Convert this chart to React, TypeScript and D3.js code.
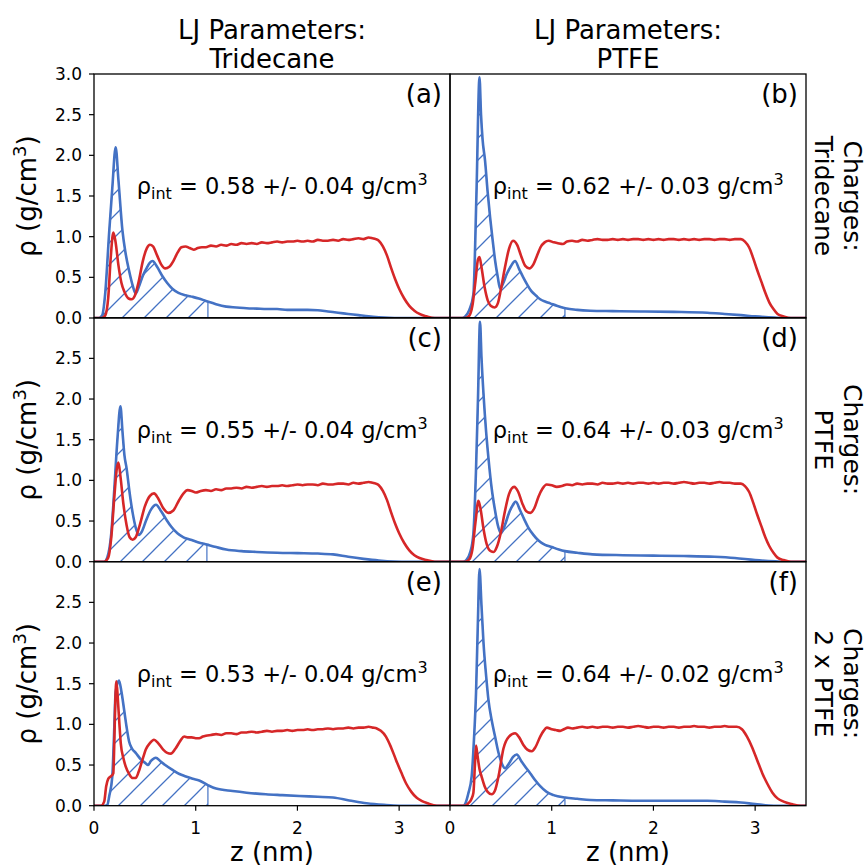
import React from "react";
import * as d3 from "d3";

type P = [number, number];

const colTitles = [
  ["LJ Parameters:", "Tridecane"],
  ["LJ Parameters:", "PTFE"],
];
const rowTitles = [
  ["Charges:", "Tridecane"],
  ["Charges:", "PTFE"],
  ["Charges:", "2 x PTFE"],
];
const panelLetters = ["(a)", "(b)", "(c)", "(d)", "(e)", "(f)"];
const rhoIntValues = ["0.58 +/- 0.04", "0.62 +/- 0.03", "0.55 +/- 0.04", "0.64 +/- 0.03", "0.53 +/- 0.04", "0.64 +/- 0.02"];
const hatchEnd = [1.12, 1.13, 1.11, 1.13, 1.12, 1.13];
const xTicks = [0, 1, 2, 3];
const yTicksTop = [0, 0.5, 1, 1.5, 2, 2.5, 3];
const yTicksLower = [0, 0.5, 1, 1.5, 2, 2.5];

const blueA: P[] = [[0,0],[0.05,0],[0.08,0.03],[0.11,0.3],[0.15,1.07],[0.18,1.6],[0.213,2.1],[0.24,1.7],[0.28,1.07],[0.31,0.8],[0.345,0.58],[0.38,0.4],[0.41,0.3],[0.44,0.38],[0.48,0.52],[0.52,0.62],[0.55,0.68],[0.575,0.7],[0.62,0.63],[0.67,0.52],[0.72,0.43],[0.77,0.36],[0.83,0.31],[0.9,0.28],[0.97,0.26],[1.03,0.24],[1.1,0.21],[1.15,0.19],[1.2,0.17],[1.3,0.14],[1.4,0.13],[1.5,0.12],[1.6,0.115],[1.7,0.11],[1.8,0.11],[1.9,0.1],[2.0,0.1],[2.1,0.1],[2.2,0.095],[2.3,0.08],[2.4,0.065],[2.5,0.05],[2.6,0.035],[2.7,0.02],[2.8,0.01],[2.9,0.003],[3.0,0],[3.5,0]];
const redA: P[] = [[0,0],[0.08,0],[0.11,0.03],[0.14,0.25],[0.165,0.75],[0.19,1.05],[0.21,0.95],[0.24,0.65],[0.27,0.43],[0.3,0.32],[0.34,0.24],[0.37,0.23],[0.4,0.27],[0.44,0.45],[0.48,0.7],[0.52,0.86],[0.55,0.9],[0.58,0.88],[0.62,0.77],[0.66,0.66],[0.7,0.61],[0.74,0.63],[0.78,0.7],[0.82,0.8],[0.86,0.87],[0.9,0.88],[0.94,0.86],[0.98,0.84],[1.02,0.86],[1.06,0.87],[1.1,0.87],[1.15,0.89],[1.2,0.88],[1.25,0.9],[1.3,0.89],[1.35,0.91],[1.4,0.9],[1.45,0.92],[1.5,0.91],[1.55,0.92],[1.6,0.91],[1.65,0.93],[1.7,0.92],[1.75,0.93],[1.8,0.94],[1.85,0.93],[1.9,0.94],[1.95,0.94],[2.0,0.95],[2.05,0.94],[2.1,0.95],[2.15,0.94],[2.2,0.96],[2.25,0.95],[2.3,0.95],[2.35,0.96],[2.4,0.95],[2.45,0.97],[2.5,0.96],[2.55,0.97],[2.6,0.98],[2.65,0.97],[2.7,0.99],[2.74,0.98],[2.77,0.97],[2.8,0.95],[2.84,0.88],[2.88,0.77],[2.92,0.62],[2.96,0.48],[3.0,0.36],[3.05,0.24],[3.1,0.15],[3.15,0.09],[3.2,0.05],[3.27,0.02],[3.35,0],[3.5,0]];

const blueB: P[] = [[0,0],[0.12,0],[0.15,0.02],[0.19,0.1],[0.23,0.29],[0.26,1.52],[0.29,2.96],[0.305,2.5],[0.32,2.2],[0.345,1.93],[0.37,1.55],[0.394,1.24],[0.42,0.95],[0.443,0.71],[0.47,0.5],[0.493,0.36],[0.52,0.42],[0.558,0.54],[0.6,0.64],[0.64,0.7],[0.68,0.6],[0.72,0.5],[0.755,0.42],[0.8,0.33],[0.85,0.27],[0.887,0.23],[0.94,0.2],[0.985,0.18],[1.05,0.15],[1.133,0.12],[1.25,0.1],[1.38,0.09],[1.6,0.085],[1.87,0.08],[2.2,0.075],[2.53,0.065],[2.7,0.05],[2.86,0.035],[3.0,0.02],[3.19,0.005],[3.3,0],[3.5,0]];
const redB: P[] = [[0,0],[0.15,0],[0.19,0.03],[0.22,0.15],[0.25,0.45],[0.275,0.72],[0.29,0.75],[0.31,0.62],[0.34,0.38],[0.37,0.22],[0.4,0.15],[0.44,0.13],[0.47,0.18],[0.5,0.35],[0.54,0.62],[0.58,0.85],[0.62,0.95],[0.66,0.9],[0.7,0.76],[0.74,0.64],[0.78,0.61],[0.82,0.66],[0.86,0.78],[0.89,0.87],[0.93,0.93],[0.97,0.95],[1.02,0.93],[1.06,0.92],[1.11,0.91],[1.15,0.94],[1.2,0.95],[1.25,0.94],[1.3,0.96],[1.35,0.95],[1.4,0.96],[1.45,0.97],[1.5,0.96],[1.55,0.96],[1.6,0.97],[1.65,0.96],[1.7,0.97],[1.75,0.96],[1.8,0.97],[1.85,0.97],[1.9,0.96],[1.95,0.97],[2.0,0.96],[2.05,0.97],[2.1,0.96],[2.15,0.97],[2.2,0.97],[2.25,0.96],[2.3,0.97],[2.35,0.96],[2.4,0.97],[2.45,0.96],[2.5,0.97],[2.55,0.97],[2.6,0.96],[2.65,0.97],[2.7,0.97],[2.75,0.96],[2.8,0.97],[2.86,0.97],[2.9,0.94],[2.94,0.87],[2.98,0.74],[3.02,0.59],[3.06,0.45],[3.1,0.31],[3.14,0.19],[3.18,0.11],[3.22,0.05],[3.28,0.02],[3.35,0],[3.5,0]];

const blueC: P[] = [[0,0],[0.1,0],[0.13,0.05],[0.17,0.35],[0.2,0.9],[0.23,1.5],[0.26,1.91],[0.28,1.6],[0.3,1.3],[0.32,1.15],[0.35,0.85],[0.38,0.6],[0.41,0.42],[0.44,0.33],[0.47,0.37],[0.51,0.5],[0.56,0.64],[0.61,0.7],[0.66,0.62],[0.71,0.52],[0.76,0.43],[0.82,0.35],[0.88,0.3],[0.95,0.27],[1.02,0.24],[1.11,0.21],[1.2,0.18],[1.3,0.15],[1.45,0.13],[1.6,0.12],[1.8,0.11],[2.0,0.105],[2.2,0.1],[2.35,0.09],[2.5,0.06],[2.65,0.035],[2.8,0.015],[2.95,0.003],[3.1,0],[3.5,0]];
const redC: P[] = [[0,0],[0.1,0],[0.14,0.05],[0.17,0.3],[0.2,0.8],[0.225,1.15],[0.24,1.22],[0.26,1.05],[0.29,0.7],[0.32,0.45],[0.35,0.3],[0.38,0.27],[0.41,0.3],[0.45,0.45],[0.5,0.68],[0.55,0.81],[0.59,0.84],[0.63,0.78],[0.68,0.66],[0.73,0.6],[0.78,0.63],[0.83,0.74],[0.88,0.84],[0.92,0.88],[0.96,0.87],[1.0,0.85],[1.05,0.87],[1.1,0.88],[1.15,0.87],[1.2,0.89],[1.25,0.88],[1.3,0.9],[1.35,0.9],[1.4,0.91],[1.45,0.9],[1.5,0.92],[1.55,0.91],[1.6,0.92],[1.65,0.93],[1.7,0.92],[1.75,0.93],[1.8,0.93],[1.85,0.94],[1.9,0.93],[1.95,0.94],[2.0,0.95],[2.05,0.94],[2.1,0.95],[2.15,0.95],[2.2,0.94],[2.25,0.96],[2.3,0.95],[2.35,0.95],[2.4,0.96],[2.45,0.96],[2.5,0.95],[2.55,0.97],[2.6,0.96],[2.65,0.97],[2.7,0.98],[2.74,0.97],[2.77,0.96],[2.8,0.94],[2.84,0.87],[2.88,0.76],[2.92,0.61],[2.96,0.47],[3.0,0.35],[3.05,0.23],[3.1,0.14],[3.15,0.08],[3.2,0.045],[3.27,0.02],[3.35,0],[3.5,0]];

const blueD: P[] = [[0,0],[0.13,0],[0.16,0.02],[0.2,0.12],[0.23,0.35],[0.255,1.1],[0.275,2.0],[0.295,2.95],[0.31,2.5],[0.33,2.05],[0.355,1.6],[0.38,1.25],[0.41,0.9],[0.44,0.65],[0.47,0.45],[0.5,0.35],[0.54,0.45],[0.58,0.6],[0.62,0.7],[0.645,0.74],[0.69,0.63],[0.73,0.52],[0.77,0.42],[0.82,0.33],[0.87,0.26],[0.93,0.21],[1.0,0.18],[1.07,0.15],[1.13,0.13],[1.25,0.11],[1.4,0.09],[1.7,0.08],[2.0,0.075],[2.3,0.07],[2.6,0.06],[2.8,0.045],[3.0,0.02],[3.2,0.005],[3.3,0],[3.5,0]];
const redD: P[] = [[0,0],[0.15,0],[0.19,0.03],[0.22,0.15],[0.25,0.48],[0.28,0.75],[0.3,0.65],[0.33,0.4],[0.36,0.22],[0.4,0.13],[0.43,0.12],[0.46,0.18],[0.5,0.36],[0.54,0.62],[0.58,0.83],[0.63,0.92],[0.67,0.86],[0.71,0.72],[0.75,0.62],[0.79,0.6],[0.83,0.66],[0.87,0.8],[0.91,0.9],[0.95,0.95],[1.0,0.94],[1.05,0.92],[1.1,0.93],[1.15,0.95],[1.2,0.94],[1.25,0.96],[1.3,0.95],[1.35,0.96],[1.4,0.96],[1.45,0.95],[1.5,0.97],[1.55,0.96],[1.6,0.96],[1.65,0.97],[1.7,0.96],[1.75,0.97],[1.8,0.96],[1.85,0.97],[1.9,0.97],[1.95,0.96],[2.0,0.97],[2.05,0.96],[2.1,0.97],[2.15,0.97],[2.2,0.96],[2.25,0.97],[2.3,0.98],[2.35,0.97],[2.4,0.96],[2.45,0.97],[2.5,0.97],[2.55,0.96],[2.6,0.97],[2.65,0.98],[2.7,0.97],[2.75,0.97],[2.8,0.96],[2.86,0.96],[2.9,0.93],[2.94,0.86],[2.98,0.73],[3.02,0.58],[3.06,0.44],[3.1,0.3],[3.14,0.19],[3.18,0.11],[3.22,0.05],[3.28,0.02],[3.35,0],[3.5,0]];

const blueE: P[] = [[0,0],[0.11,0],[0.131,0.01],[0.15,0.12],[0.18,0.36],[0.195,0.8],[0.213,1.4],[0.246,1.54],[0.27,1.4],[0.296,1.18],[0.32,0.97],[0.345,0.79],[0.375,0.7],[0.41,0.65],[0.46,0.57],[0.51,0.52],[0.53,0.5],[0.56,0.55],[0.608,0.59],[0.65,0.55],[0.7,0.5],[0.772,0.44],[0.84,0.39],[0.903,0.36],[0.97,0.33],[1.034,0.31],[1.123,0.25],[1.2,0.21],[1.363,0.18],[1.5,0.16],[1.69,0.14],[1.85,0.13],[2.02,0.12],[2.2,0.11],[2.35,0.1],[2.51,0.065],[2.68,0.03],[2.85,0.01],[3.0,0],[3.5,0]];
const redE: P[] = [[0,0],[0.07,0],[0.1,0.05],[0.12,0.24],[0.14,0.33],[0.165,0.36],[0.19,0.4],[0.2,0.8],[0.21,1.3],[0.22,1.53],[0.235,1.3],[0.25,1.0],[0.263,0.77],[0.29,0.58],[0.312,0.48],[0.35,0.38],[0.38,0.34],[0.41,0.34],[0.44,0.42],[0.48,0.58],[0.509,0.69],[0.55,0.77],[0.59,0.81],[0.63,0.77],[0.68,0.69],[0.72,0.65],[0.755,0.64],[0.8,0.7],[0.85,0.8],[0.887,0.85],[0.92,0.84],[0.96,0.84],[1.0,0.83],[1.034,0.83],[1.07,0.85],[1.1,0.86],[1.15,0.87],[1.2,0.88],[1.25,0.87],[1.3,0.89],[1.35,0.89],[1.4,0.88],[1.45,0.9],[1.5,0.9],[1.55,0.91],[1.6,0.9],[1.65,0.91],[1.7,0.92],[1.75,0.91],[1.8,0.92],[1.85,0.92],[1.9,0.93],[1.95,0.92],[2.0,0.93],[2.05,0.93],[2.1,0.94],[2.15,0.93],[2.2,0.94],[2.25,0.94],[2.3,0.95],[2.35,0.94],[2.4,0.95],[2.45,0.95],[2.5,0.96],[2.55,0.95],[2.6,0.96],[2.65,0.96],[2.7,0.97],[2.74,0.96],[2.78,0.95],[2.82,0.92],[2.87,0.85],[2.92,0.72],[2.97,0.56],[3.02,0.41],[3.07,0.27],[3.12,0.17],[3.17,0.1],[3.22,0.06],[3.28,0.03],[3.37,0],[3.5,0]];

const blueF: P[] = [[0,0],[0.13,0],[0.148,0.02],[0.18,0.15],[0.213,0.36],[0.235,0.8],[0.256,1.39],[0.275,2.3],[0.29,2.91],[0.31,2.45],[0.33,1.99],[0.355,1.6],[0.378,1.3],[0.41,1.05],[0.443,0.85],[0.475,0.66],[0.509,0.52],[0.542,0.46],[0.58,0.52],[0.62,0.6],[0.657,0.63],[0.7,0.55],[0.745,0.47],[0.788,0.4],[0.84,0.31],[0.887,0.24],[0.95,0.17],[1.018,0.13],[1.133,0.1],[1.25,0.085],[1.38,0.07],[1.6,0.065],[1.87,0.06],[2.2,0.06],[2.53,0.06],[2.7,0.05],[2.86,0.04],[3.0,0.02],[3.185,0],[3.5,0]];
const redF: P[] = [[0,0],[0.15,0],[0.18,0.03],[0.21,0.08],[0.23,0.16],[0.245,0.5],[0.256,0.74],[0.27,0.62],[0.29,0.45],[0.31,0.36],[0.34,0.24],[0.37,0.17],[0.41,0.14],[0.44,0.18],[0.48,0.38],[0.525,0.7],[0.58,0.85],[0.64,0.89],[0.68,0.84],[0.72,0.75],[0.76,0.69],[0.805,0.67],[0.84,0.72],[0.887,0.85],[0.92,0.92],[0.952,0.96],[1.0,0.94],[1.04,0.93],[1.084,0.92],[1.12,0.94],[1.16,0.96],[1.2,0.95],[1.25,0.96],[1.3,0.97],[1.35,0.96],[1.4,0.97],[1.45,0.96],[1.5,0.97],[1.55,0.97],[1.6,0.96],[1.65,0.97],[1.7,0.97],[1.75,0.96],[1.8,0.97],[1.85,0.98],[1.9,0.97],[1.95,0.96],[2.0,0.97],[2.05,0.97],[2.1,0.96],[2.15,0.97],[2.2,0.97],[2.25,0.96],[2.3,0.97],[2.35,0.97],[2.4,0.98],[2.45,0.97],[2.5,0.97],[2.55,0.96],[2.6,0.97],[2.65,0.97],[2.7,0.98],[2.75,0.97],[2.82,0.97],[2.87,0.94],[2.92,0.85],[2.97,0.72],[3.02,0.56],[3.07,0.4],[3.12,0.27],[3.17,0.16],[3.22,0.09],[3.28,0.05],[3.36,0.02],[3.45,0],[3.5,0]];

const blueSeries = [blueA, blueB, blueC, blueD, blueE, blueF];
const redSeries = [redA, redB, redC, redD, redE, redF];

const BLUE = "#4472c4";
const RED = "#d62728";
const FONT = "DejaVu Sans, sans-serif";
const BIG = 26;

const colX = [94, 450];
const rowY = [74, 317.7, 561.7];
const PW = 356;
const PH = 244;

function Panel({ idx }: { idx: number }) {
  const col = idx % 2;
  const row = Math.floor(idx / 2);
  const x0 = colX[col];
  const y0 = rowY[row];
  const x = d3.scaleLinear().domain([0, 3.5]).range([x0, x0 + PW]);
  const y = d3.scaleLinear().domain([0, 3]).range([y0 + PH, y0]);
  const blue = blueSeries[idx];
  const red = redSeries[idx];
  const end = hatchEnd[idx];
  const hatchPts: P[] = blue.filter((p) => p[0] <= end);
  const after = blue.find((p) => p[0] > end);
  const last = hatchPts[hatchPts.length - 1];
  if (after && last) {
    const t = (end - last[0]) / (after[0] - last[0]);
    hatchPts.push([end, last[1] + t * (after[1] - last[1])]);
  }
  const startIdx = hatchPts.findIndex((p) => p[1] > 0);
  const hp = hatchPts.slice(Math.max(0, startIdx - 1));
  const line = d3
    .line<P>()
    .x((d) => x(d[0]))
    .y((d) => y(d[1]))
    .curve(d3.curveMonotoneX);
  const area = d3
    .area<P>()
    .x((d) => x(d[0]))
    .y0(y(0))
    .y1((d) => y(d[1]))
    .curve(d3.curveMonotoneX);
  const clipId = `clip${idx}`;
  const yTicks = row === 0 ? yTicksTop : yTicksLower;
  return (
    <g>
      <clipPath id={clipId}>
        <rect x={x0} y={y0} width={PW} height={PH} />
      </clipPath>
      <g clipPath={`url(#${clipId})`}>
        <path d={area(hp) || ""} fill="url(#hatch)" stroke={BLUE} strokeWidth={1.2} />
        <path d={line(blue) || ""} fill="none" stroke={BLUE} strokeWidth={2.6} strokeLinejoin="round" />
        <path d={line(red) || ""} fill="none" stroke={RED} strokeWidth={2.6} strokeLinejoin="round" />
      </g>
      <rect x={x0} y={y0} width={PW} height={PH} fill="none" stroke="#000" strokeWidth={1.3} />
      {col === 0 &&
        yTicks.map((t) => (
          <g key={t}>
            <line x1={x0 - 5} x2={x0} y1={y(t)} y2={y(t)} stroke="#000" strokeWidth={1.2} />
            <text x={x0 - 12} y={y(t)} dy="0.36em" textAnchor="end" fontSize={17} fontFamily={FONT} fill="#000">
              {t.toFixed(1)}
            </text>
          </g>
        ))}
      {row === 2 &&
        xTicks.map((t) => (
          <g key={t}>
            <line x1={x(t)} x2={x(t)} y1={y0 + PH} y2={y0 + PH + 5} stroke="#000" strokeWidth={1.2} />
            <text x={x(t)} y={y0 + PH + 28} textAnchor="middle" fontSize={17} fontFamily={FONT} fill="#000">
              {t}
            </text>
          </g>
        ))}
      <text x={x0 + PW - 8} y={y0 + 29} textAnchor="end" fontSize={BIG} fontFamily={FONT} fill="#000">
        {panelLetters[idx]}
      </text>
      <text x={x(0.42)} y={y(1.52)} fontSize={22.5} fontFamily={FONT} fill="#000">
        ρ
        <tspan fontSize={16} dy={5}>int</tspan>
        <tspan dy={-5}>{` = ${rhoIntValues[idx]} g/cm`}</tspan>
        <tspan fontSize={16} dy={-9}>3</tspan>
      </text>
      {col === 0 && (
        <text
          transform={`translate(36,${y0 + PH / 2}) rotate(-90)`}
          textAnchor="middle"
          fontSize={BIG}
          fontFamily={FONT}
          fill="#000"
        >
          ρ (g/cm
          <tspan fontSize={18} dy={-10}>3</tspan>
          <tspan dy={10}>)</tspan>
        </text>
      )}
      {col === 1 && (
        <text
          transform={`translate(844,${y0 + PH / 2}) rotate(90)`}
          textAnchor="middle"
          fontSize={25}
          fontFamily={FONT}
          fill="#000"
        >
          <tspan x={0} y={0}>{rowTitles[row][0]}</tspan>
          <tspan x={0} y={29.5}>{rowTitles[row][1]}</tspan>
        </text>
      )}
      {row === 0 && (
        <text x={x0 + PW / 2} y={39} textAnchor="middle" fontSize={BIG} fontFamily={FONT} fill="#000">
          <tspan x={x0 + PW / 2} y={39}>{colTitles[col][0]}</tspan>
          <tspan x={x0 + PW / 2} y={68}>{colTitles[col][1]}</tspan>
        </text>
      )}
      {row === 2 && (
        <text x={x0 + PW / 2} y={861} textAnchor="middle" fontSize={BIG} fontFamily={FONT} fill="#000">
          z (nm)
        </text>
      )}
    </g>
  );
}

export default function App() {
  return (
    <svg
      width={867}
      height={868}
      style={{ position: "absolute", left: 0, top: 0, background: "#fff" }}
    >
      <defs>
        <pattern id="hatch" patternUnits="userSpaceOnUse" width={22} height={22}>
          <path d="M-2,2 L2,-2 M0,22 L22,0 M20,24 L24,20" stroke={BLUE} strokeWidth={1.3} />
        </pattern>
      </defs>
      <rect x={0} y={0} width={867} height={868} fill="#fff" />
      {[0, 1, 2, 3, 4, 5].map((i) => (
        <Panel key={i} idx={i} />
      ))}
    </svg>
  );
}
